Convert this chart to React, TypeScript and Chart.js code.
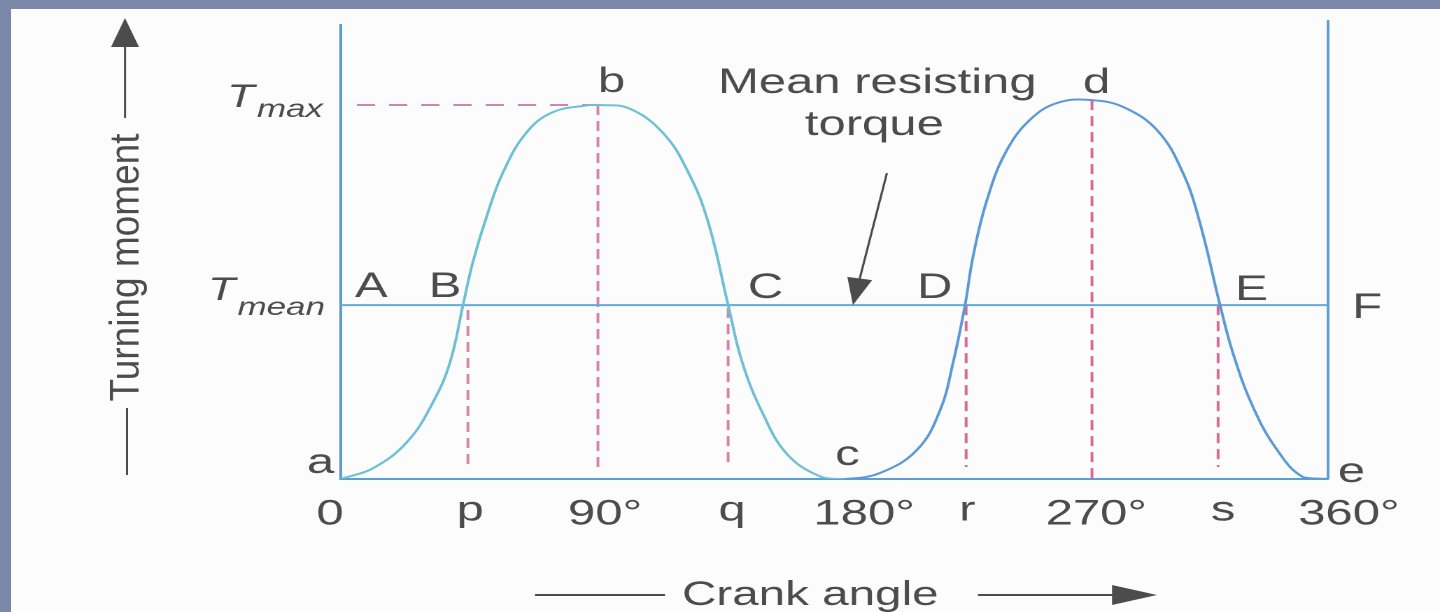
import React, { useEffect, useRef } from "react";
import { Chart, registerables } from "chart.js";

Chart.register(...registerables);

// Turning-moment diagram: torque against crank angle over one revolution.

// Curve a-b-c-d-e: crank angle in degrees, turning moment as % of T max
const crankAngle = [
  0, 11.7, 24.1, 33.6, 39.8, 44.5, 48.1, 53.3, 59.1, 67.8,
  77.3, 89.7, 93.7, 104.7, 117.1, 126.6, 133.9, 141.2, 146.3, 153.6,
  163.0, 175.4, 183.5, 196.6, 210.1, 218.5, 223.2, 227.6, 230.5, 235.6,
  242.9, 252.4, 262.3, 273.9, 285.2, 297.6, 307.1, 313.3, 320.6, 325.3,
  332.6, 341.4, 350.9, 360,
];
const turningMoment = [
  0, 2.9, 9.9, 20.6, 31.3, 46.5, 58.0, 70.6, 82.0, 92.8,
  98.1, 99.9, 100, 99.2, 92.8, 82.1, 68.7, 46.5, 31.3, 17.9,
  6.4, 0.5, 0, 1.6, 7.8, 18.4, 31.0, 46.5, 59.4, 74.6,
  88.0, 96.8, 100.8, 101.3, 99.5, 93.3, 81.8, 68.4, 46.5, 33.7,
  19.3, 7.8, 0.5, 0,
];

const T_MAX = 100;
const T_MEAN = 46.5;
const FRAME_TOP = 122.7;
const Y_TOP = 121.4;
const SECOND_STROKE_FROM = 183.5;

// Crank-angle axis labels and the angles they sit at
const tickLabels = ["0", "p", "90°", "q", "180°", "r", "270°", "s", "360°"];
const tickAngles = [-4.0, 47.1, 96.3, 142.6, 190.8, 228.4, 275.5, 321.7, 367.6];

// Dashed ordinates p, b, q, r, d, s
const dropAngles = [46.3, 93.7, 141.2, 228.0, 273.9, 319.9];
const dropTops = [45.2, 100, 45.7, 46.5, 101.3, 46.5];
const dropBottoms = [3.7, 1.6, 3.2, 3.2, 0, 3.2];
const maxGuideStart = 5.8;

const PAGE_W = 1440;
const PAGE_H = 612;
const CANVAS_W = 1029;
const STRETCH = PAGE_W / CANVAS_W;

const FONT = '"Liberation Sans", Arial, Helvetica, sans-serif';
const INK = "#4c4c4c";
const AXIS_BLUE = "#5c9dd6";
const CURVE_CYAN = "#6cc0d6";
const CURVE_BLUE = "#5b99d6";
const MEAN_BLUE = "#63abd3";
const DASH_SOFT = "rgba(204,112,152,0.85)";
const DASH_RED = "rgba(218,86,136,0.9)";

type Mark = { text: string; deg: number; val: number };
const pointMarks: Mark[] = [
  { text: "A", deg: 5.1, val: 48.7 },
  { text: "B", deg: 32.0, val: 48.7 },
  { text: "C", deg: 148.4, val: 48.4 },
  { text: "D", deg: 210.1, val: 48.4 },
  { text: "E", deg: 326.1, val: 47.9 },
  { text: "F", deg: 368.8, val: 43.0 },
  { text: "a", deg: -12.4, val: 1.6 },
  { text: "b", deg: 93.7, val: 103.5 },
  { text: "c", deg: 180.2, val: 3.7 },
  { text: "d", deg: 270.6, val: 103.2 },
  { text: "e", deg: 363.6, val: -0.8 },
  { text: "Mean resisting", deg: 137.5, val: 103.2 },
  { text: "torque", deg: 169.2, val: 92.0 },
];

function arrowHead(
  ctx: CanvasRenderingContext2D,
  tipX: number,
  tipY: number,
  fromX: number,
  fromY: number,
  len: number,
  half: number
) {
  const dx = tipX - fromX;
  const dy = tipY - fromY;
  const d = Math.hypot(dx, dy) || 1;
  const ux = dx / d;
  const uy = dy / d;
  const bx = tipX - ux * len;
  const by = tipY - uy * len;
  ctx.beginPath();
  ctx.moveTo(tipX, tipY);
  ctx.lineTo(bx - uy * half, by + ux * half);
  ctx.lineTo(bx + uy * half, by - ux * half);
  ctx.closePath();
  ctx.fill();
}

const diagramText = {
  id: "diagramText",
  afterDraw(chart: any) {
    const { ctx, chartArea, scales } = chart;
    const X = (d: number) => scales.x.getPixelForValue(d);
    const Y = (v: number) => scales.y.getPixelForValue(v);
    const h = (px: number) => px / STRETCH;

    ctx.save();
    ctx.fillStyle = INK;
    ctx.strokeStyle = INK;
    ctx.textAlign = "left";
    ctx.textBaseline = "alphabetic";

    // point letters and the "Mean resisting torque" note
    ctx.font = `35px ${FONT}`;
    for (const m of pointMarks) ctx.fillText(m.text, X(m.deg), Y(m.val));

    // arrow to the mean torque line
    const tx = X(199.1), ty = Y(81.8);
    const hx = X(186.7), hy = Y(T_MEAN);
    ctx.lineWidth = 1.6;
    ctx.beginPath();
    ctx.moveTo(tx, ty);
    const dd = Math.hypot(hx - tx, hy - ty);
    ctx.lineTo(hx - ((hx - tx) / dd) * 20, hy - ((hy - ty) / dd) * 20);
    ctx.stroke();
    arrowHead(ctx, hx, hy, tx, ty, 27, 9);

    // T max / T mean on the torque axis
    const ax = chartArea.left;
    ctx.font = `italic 32px ${FONT}`;
    ctx.fillText("T", ax - h(114), Y(T_MAX) + 2);
    ctx.fillText("T", ax - h(133), Y(T_MEAN) - 5);
    ctx.textAlign = "right";
    ctx.font = `italic 25px ${FONT}`;
    ctx.fillText("max", ax - h(18), Y(T_MAX) + 12);
    ctx.fillText("mean", ax - h(16), Y(T_MEAN) + 10);

    // vertical axis title with its arrow
    ctx.lineWidth = 1.5;
    ctx.beginPath();
    ctx.moveTo(h(125), 118);
    ctx.lineTo(h(125), 44);
    ctx.moveTo(h(127), 408);
    ctx.lineTo(h(127), 475);
    ctx.stroke();
    arrowHead(ctx, h(125), 18, h(125), 118, 29, h(14));

    ctx.save();
    ctx.translate(h(127), 267.5);
    ctx.scale(0.81, 1);
    ctx.rotate(-Math.PI / 2);
    ctx.textAlign = "center";
    ctx.textBaseline = "middle";
    ctx.font = `37px ${FONT}`;
    ctx.fillText("Turning moment", 0, 0);
    ctx.restore();

    // horizontal axis title with its arrow
    ctx.lineWidth = 2;
    ctx.beginPath();
    ctx.moveTo(h(535), 595);
    ctx.lineTo(h(665), 595);
    ctx.moveTo(h(978), 595);
    ctx.lineTo(h(1118), 595);
    ctx.stroke();
    arrowHead(ctx, h(1157), 595, h(978), 595, h(45), 10);
    ctx.textAlign = "left";
    ctx.textBaseline = "alphabetic";
    ctx.font = `34px ${FONT}`;
    ctx.fillText("Crank angle", h(682), 605);

    ctx.restore();
  },
};

export default function App() {
  const canvasRef = useRef<HTMLCanvasElement | null>(null);

  useEffect(() => {
    const canvas = canvasRef.current;
    if (!canvas) return;

    const line = (data: { x: number; y: number }[], color: string, extra: any = {}) => ({
      data,
      borderColor: color,
      borderWidth: 2,
      pointRadius: 0,
      fill: false,
      ...extra,
    });

    const datasets: any[] = [
      line(
        crankAngle.map((x, i) => ({ x, y: turningMoment[i] })),
        CURVE_BLUE,
        {
          label: "Turning moment",
          tension: 0.4,
          segment: {
            borderColor: (c: any) => (c.p0.parsed.x < SECOND_STROKE_FROM ? CURVE_CYAN : CURVE_BLUE),
          },
        }
      ),
      line([{ x: 0, y: T_MEAN }, { x: 360, y: T_MEAN }], MEAN_BLUE, { label: "Mean resisting torque" }),
      line([{ x: 360, y: 0 }, { x: 360, y: FRAME_TOP }], AXIS_BLUE, { label: "360°", clip: false }),
      line(
        [{ x: maxGuideStart, y: T_MAX }, { x: dropAngles[1], y: T_MAX }],
        DASH_SOFT,
        { label: "T max", borderDash: [13, 10] }
      ),
      ...dropAngles.map((a, i) =>
        line(
          [{ x: a, y: dropTops[i] }, { x: a, y: dropBottoms[i] }],
          i < 3 ? DASH_SOFT : DASH_RED,
          { label: tickLabels[i], borderDash: [10, 6] }
        )
      ),
    ];

    const chart = new Chart(canvas, {
      type: "line",
      data: { datasets },
      plugins: [diagramText],
      options: {
        animation: false,
        responsive: false,
        devicePixelRatio: 2,
        events: [],
        layout: { padding: { top: 25, right: 80, bottom: 0, left: 0 } },
        plugins: { legend: { display: false }, tooltip: { enabled: false }, title: { display: false } },
        scales: {
          x: {
            type: "linear",
            min: 0,
            max: 360,
            position: "bottom",
            grid: { display: false, drawTicks: false },
            border: { display: true, color: AXIS_BLUE, width: 2 },
            afterBuildTicks: (s: any) => {
              s.ticks = tickAngles.map((v) => ({ value: v }));
            },
            afterFit: (s: any) => {
              s.height = PAGE_H - 479;
            },
            ticks: {
              autoSkip: false,
              maxRotation: 0,
              minRotation: 0,
              padding: 15,
              color: INK,
              font: (c: any) => ({
                family: FONT,
                size: 35,
                lineHeight: /^[a-z]$/.test(String(c.tick?.label ?? "")) ? 0.95 : 1.2,
              }),
              callback: (_v: any, i: number) => tickLabels[i],
            },
          },
          y: {
            type: "linear",
            min: 0,
            max: Y_TOP,
            grid: { display: false, drawTicks: false },
            border: { display: true, color: AXIS_BLUE, width: 2 },
            ticks: { display: false },
            afterFit: (s: any) => {
              s.width = 341 / STRETCH;
            },
          },
        },
      } as any,
    });

    return () => chart.destroy();
  }, []);

  return (
    <div
      style={{
        position: "fixed",
        left: 0,
        top: 0,
        width: PAGE_W,
        height: PAGE_H,
        overflow: "hidden",
        background: "#7b87a9",
      }}
    >
      <div
        style={{
          position: "absolute",
          left: 11,
          top: 9,
          right: 0,
          bottom: 0,
          background: "#fcfcfc",
        }}
      />
      <canvas
        ref={canvasRef}
        width={CANVAS_W}
        height={PAGE_H}
        style={{
          position: "absolute",
          left: 0,
          top: 0,
          width: CANVAS_W,
          height: PAGE_H,
          transform: `scaleX(${STRETCH})`,
          transformOrigin: "0 0",
        }}
      />
    </div>
  );
}
